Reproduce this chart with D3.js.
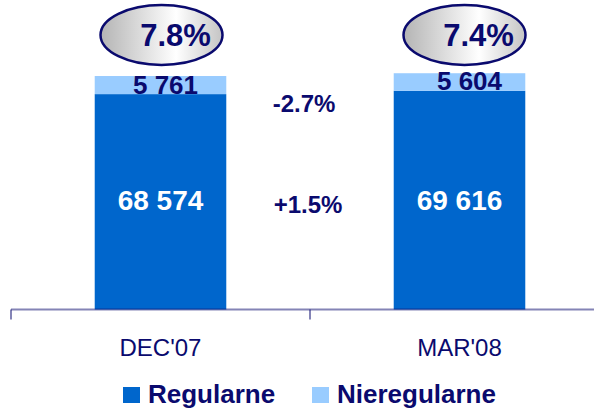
<!DOCTYPE html>
<html>
<head>
<meta charset="utf-8">
<script src="https://cdn.jsdelivr.net/npm/d3@7/dist/d3.min.js"></script>
<style>
  body { margin: 0; background: #fff; }
  svg { display: block; font-family: "Liberation Sans", Arial, sans-serif; }
</style>
</head>
<body>
<div id="chart"></div>
<script>
// datos del grafico
var categorias = ["DEC'07", "MAR'08"];
var regularne = [68574, 69616];
var nieregularne = [5761, 5604];
var etiquetasReg = ["68 574", "69 616"];
var etiquetasNie = ["5 761", "5 604"];
var udzial = ["7.8%", "7.4%"];          // porcentaje en la elipse
var cambios = ["-2.7%", "+1.5%"];       // variacion nieregularne / regularne
var leyenda = ["Regularne", "Nieregularne"];

var W = 594, H = 410;
var azul = "#0066cc", celeste = "#99ccff", navy = "#0a0a6e";

var svg = d3.select("#chart").append("svg")
  .attr("width", W)
  .attr("height", H);

var x = d3.scaleBand()
  .domain(categorias)
  .range([11, 609])
  .paddingInner(0.56)
  .paddingOuter(0.28);

var step = x.step();

var y = d3.scaleLinear()
  .domain([0, 80000])
  .range([309.5, 309.5 - 80000 * 0.003141]);

// gradiente de las elipses
var grad = svg.append("defs").append("linearGradient")
  .attr("id", "gris")
  .attr("x1", "0%").attr("x2", "100%");
grad.append("stop").attr("offset", "0%").attr("stop-color", "#b4b4b4");
grad.append("stop").attr("offset", "62%").attr("stop-color", "#ffffff");
grad.append("stop").attr("offset", "100%").attr("stop-color", "#c4c4c4");

// barras
svg.selectAll("rect.reg")
  .data(regularne)
  .enter()
  .append("rect")
  .attr("class", "reg")
  .attr("x", function(d, i){ return x(categorias[i]); })
  .attr("width", x.bandwidth())
  .attr("y", function(d){ return y(d); })
  .attr("height", function(d){ return y(0) - y(d); })
  .attr("fill", azul);

svg.selectAll("rect.nie")
  .data(nieregularne)
  .enter()
  .append("rect")
  .attr("class", "nie")
  .attr("x", function(d, i){ return x(categorias[i]); })
  .attr("width", x.bandwidth())
  .attr("y", function(d, i){ return y(regularne[i] + d); })
  .attr("height", function(d, i){ return y(regularne[i]) - y(regularne[i] + d); })
  .attr("fill", celeste);

// eje
svg.append("line")
  .attr("x1", 11).attr("x2", W)
  .attr("y1", y(0)).attr("y2", y(0))
  .attr("stroke", navy).attr("stroke-opacity", 0.5).attr("stroke-width", 2);

var bordes = categorias.map(function(c){ return x(c) - step * 0.28; });
svg.selectAll("line.tick")
  .data(bordes)
  .enter()
  .append("line")
  .attr("class", "tick")
  .attr("x1", function(d){ return d; }).attr("x2", function(d){ return d; })
  .attr("y1", y(0)).attr("y2", y(0) + 10)
  .attr("stroke", navy).attr("stroke-opacity", 0.5).attr("stroke-width", 2);

// etiquetas de categoria
svg.selectAll("text.cat")
  .data(categorias)
  .enter()
  .append("text")
  .attr("class", "cat")
  .attr("x", function(d){ return x(d) + x.bandwidth() / 2; })
  .attr("y", 356)
  .attr("text-anchor", "middle")
  .attr("font-size", "24px")
  .attr("fill", navy)
  .text(function(d){ return d; });

// valores dentro de las barras
svg.selectAll("text.vreg")
  .data(etiquetasReg)
  .enter()
  .append("text")
  .attr("class", "vreg")
  .attr("x", function(d, i){ return x(categorias[i]) + x.bandwidth() / 2; })
  .attr("y", 210)
  .attr("text-anchor", "middle")
  .attr("font-size", "28px")
  .attr("font-weight", "bold")
  .attr("fill", "#fff")
  .text(function(d){ return d; });

svg.selectAll("text.vnie")
  .data(etiquetasNie)
  .enter()
  .append("text")
  .attr("class", "vnie")
  .attr("x", function(d, i){ return x(categorias[i]) + x.bandwidth() / 2 + 5 + i * 5; })
  .attr("y", function(d, i){ return y(regularne[i]) - 0.5; })
  .attr("text-anchor", "middle")
  .attr("font-size", "26px")
  .attr("font-weight", "bold")
  .attr("fill", navy)
  .text(function(d){ return d; });

// elipses con porcentaje
var elip = svg.selectAll("g.elipse")
  .data(udzial)
  .enter()
  .append("g")
  .attr("class", "elipse")
  .attr("transform", function(d, i){
    return "translate(" + (x(categorias[i]) + x.bandwidth() / 2 + 1 + i * 4) + ",35)";
  });

elip.append("ellipse")
  .attr("rx", 61)
  .attr("ry", 30)
  .attr("fill", "url(#gris)")
  .attr("stroke", navy)
  .attr("stroke-width", 2.5);

elip.append("text")
  .attr("x", 14)
  .attr("y", 11)
  .attr("text-anchor", "middle")
  .attr("font-size", "31px")
  .attr("font-weight", "bold")
  .attr("fill", navy)
  .text(function(d){ return d; });

// variaciones entre barras
var medio = (x(categorias[0]) + x.bandwidth() + x(categorias[1])) / 2;
svg.selectAll("text.cambio")
  .data(cambios)
  .enter()
  .append("text")
  .attr("class", "cambio")
  .attr("x", function(d, i){ return medio - 6 + i * 4; })
  .attr("y", function(d, i){ return i == 0 ? 112 : 213; })
  .attr("text-anchor", "middle")
  .attr("font-size", "24px")
  .attr("font-weight", "bold")
  .attr("fill", navy)
  .text(function(d){ return d; });

// leyenda
var colores = [azul, celeste];
var posLey = [123, 312];
var ley = svg.selectAll("g.ley")
  .data(leyenda)
  .enter()
  .append("g")
  .attr("class", "ley")
  .attr("transform", function(d, i){ return "translate(" + posLey[i] + ",387)"; });

ley.append("rect")
  .attr("width", 17)
  .attr("height", 16)
  .attr("fill", function(d, i){ return colores[i]; });

ley.append("text")
  .attr("x", 25)
  .attr("y", 16)
  .attr("font-size", "26px")
  .attr("font-weight", "bold")
  .attr("fill", navy)
  .text(function(d){ return d; });
</script>
</body>
</html>
